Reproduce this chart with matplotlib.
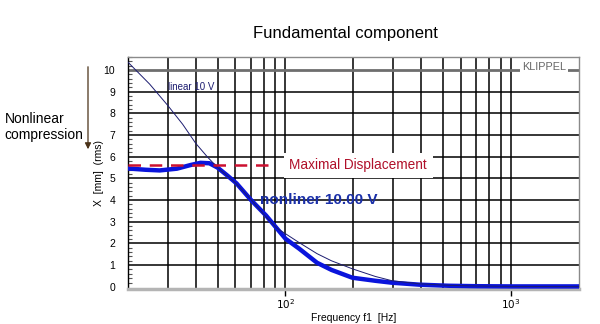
import matplotlib
matplotlib.use("Agg")
import matplotlib.pyplot as plt
from matplotlib.ticker import FixedLocator, MultipleLocator, FixedFormatter, NullFormatter

plt.rcParams['font.family'] = ['Liberation Sans', 'DejaVu Sans']

# Data
freq_nl = [20, 24, 27.7, 33, 38, 42, 46, 50, 55, 60.7, 70.7, 82, 100, 115, 138,
           160, 198, 250, 297, 392, 528, 700, 1000, 1500, 2000]
x_nl = [5.46, 5.40, 5.37, 5.45, 5.62, 5.72, 5.70, 5.50, 5.15, 4.77, 3.98, 3.29,
        2.22, 1.76, 1.11, 0.78, 0.42, 0.28, 0.19, 0.10, 0.05, 0.03, 0.02, 0.02, 0.02]

freq_lin = [20, 25, 30, 35, 40, 45, 50, 60, 70, 80, 91, 100, 115, 138, 160, 198,
            250, 297, 392, 528, 700, 1000, 2000]
x_lin = [10.37, 9.35, 8.38, 7.5, 6.62, 6.0, 5.5, 4.8, 4.05, 3.35, 2.73, 2.45,
         2.04, 1.53, 1.2, 0.83, 0.48, 0.28, 0.14, 0.07, 0.04, 0.02, 0.01]

max_disp = 5.6
major_x = [100, 1000]
major_x_labels = [r'$10^2$', r'$10^3$']
minor_x = [30, 40, 50, 60, 70, 80, 90, 200, 300, 400, 500, 600, 700, 800, 900]
y_ticks = list(range(0, 11))

fig = plt.figure(figsize=(6.0, 3.24), dpi=100)
ax = fig.add_axes([0.213, 0.108, 0.752, 0.716])
ax.set_xscale('log')
ax.set_xlim(20, 2000)
ax.set_ylim(-0.1, 10.6)

# grid
for f in minor_x + major_x:
    ax.axvline(f, color='black', lw=1.1, zorder=1)
for y in y_ticks[1:10]:
    ax.axhline(y, color='black', lw=1.1, zorder=1)
ax.axhline(10, color='#6e6e6e', lw=2.0, zorder=1)

ax.xaxis.set_major_locator(FixedLocator(major_x))
ax.xaxis.set_major_formatter(FixedFormatter(major_x_labels))
ax.xaxis.set_minor_locator(FixedLocator(minor_x))
ax.xaxis.set_minor_formatter(NullFormatter())
ax.tick_params(axis='x', which='major', direction='out', length=5, width=1,
               labelsize=7.5, pad=1)
ax.tick_params(axis='x', which='minor', length=0)

ax.set_yticks(y_ticks)
ax.yaxis.set_minor_locator(MultipleLocator(0.2))
ax.tick_params(axis='y', which='major', direction='in', length=0,
               labelsize=7.5, pad=9)
ax.tick_params(axis='y', which='minor', direction='in', length=3, width=0.8,
               color='#555555')

for s in ['top', 'right']:
    ax.spines[s].set_color('#8a8a8a')
    ax.spines[s].set_linewidth(1.0)
ax.spines['left'].set_color('black')
ax.spines['left'].set_linewidth(1.0)
ax.spines['bottom'].set_color('#b4b4b4')
ax.spines['bottom'].set_linewidth(2.5)

# curves
ax.plot(freq_lin, x_lin, color='#1c1c70', lw=0.7, zorder=4)
ax.plot(freq_nl, x_nl, color='#0a14dc', lw=3.2, zorder=3, solid_capstyle='butt')
ax.plot([20, 87], [max_disp, max_disp], color='#cc1030', lw=1.8,
        dashes=(5, 3.5), zorder=5)

# annotations
ax.text(104, max_disp, 'Maximal Displacement', color='#b0102a', fontsize=9.8,
        va='center', ha='left', zorder=6,
        bbox=dict(facecolor='white', edgecolor='none', pad=4))
ax.text(77, 4.0, 'nonliner 10.00 V', color='#1a2fa8', fontsize=11,
        fontweight='bold', va='center', ha='left', zorder=6)
ax.text(30, 9.2, 'linear 10 V', color='#1c1c70', fontsize=7, va='center',
        ha='left', zorder=6)
ax.text(1400, 10.15, 'KLIPPEL', color='#666666', fontsize=7.8, va='center',
        ha='center', zorder=6,
        bbox=dict(facecolor='white', edgecolor='none', pad=1.5))

ax.set_xlabel('Frequency f1  [Hz]', fontsize=7.5, labelpad=1.5)
ax.set_ylabel('X  [mm]  (rms)', fontsize=7.5, labelpad=0)

fig.text(0.575, 0.898, 'Fundamental component', fontsize=12, ha='center',
         va='center')
fig.text(0.008, 0.608, 'Nonlinear\ncompression', fontsize=10, ha='left',
         va='center', linespacing=1.25)
fig.patches.append(matplotlib.patches.FancyArrowPatch(
    (88 / 600, 1 - 64 / 324), (88 / 600, 1 - 152 / 324),
    transform=fig.transFigure, arrowstyle='-|>', mutation_scale=9,
    color='#4a3218', lw=0.9))

fig.savefig('out.png', dpi=100)
